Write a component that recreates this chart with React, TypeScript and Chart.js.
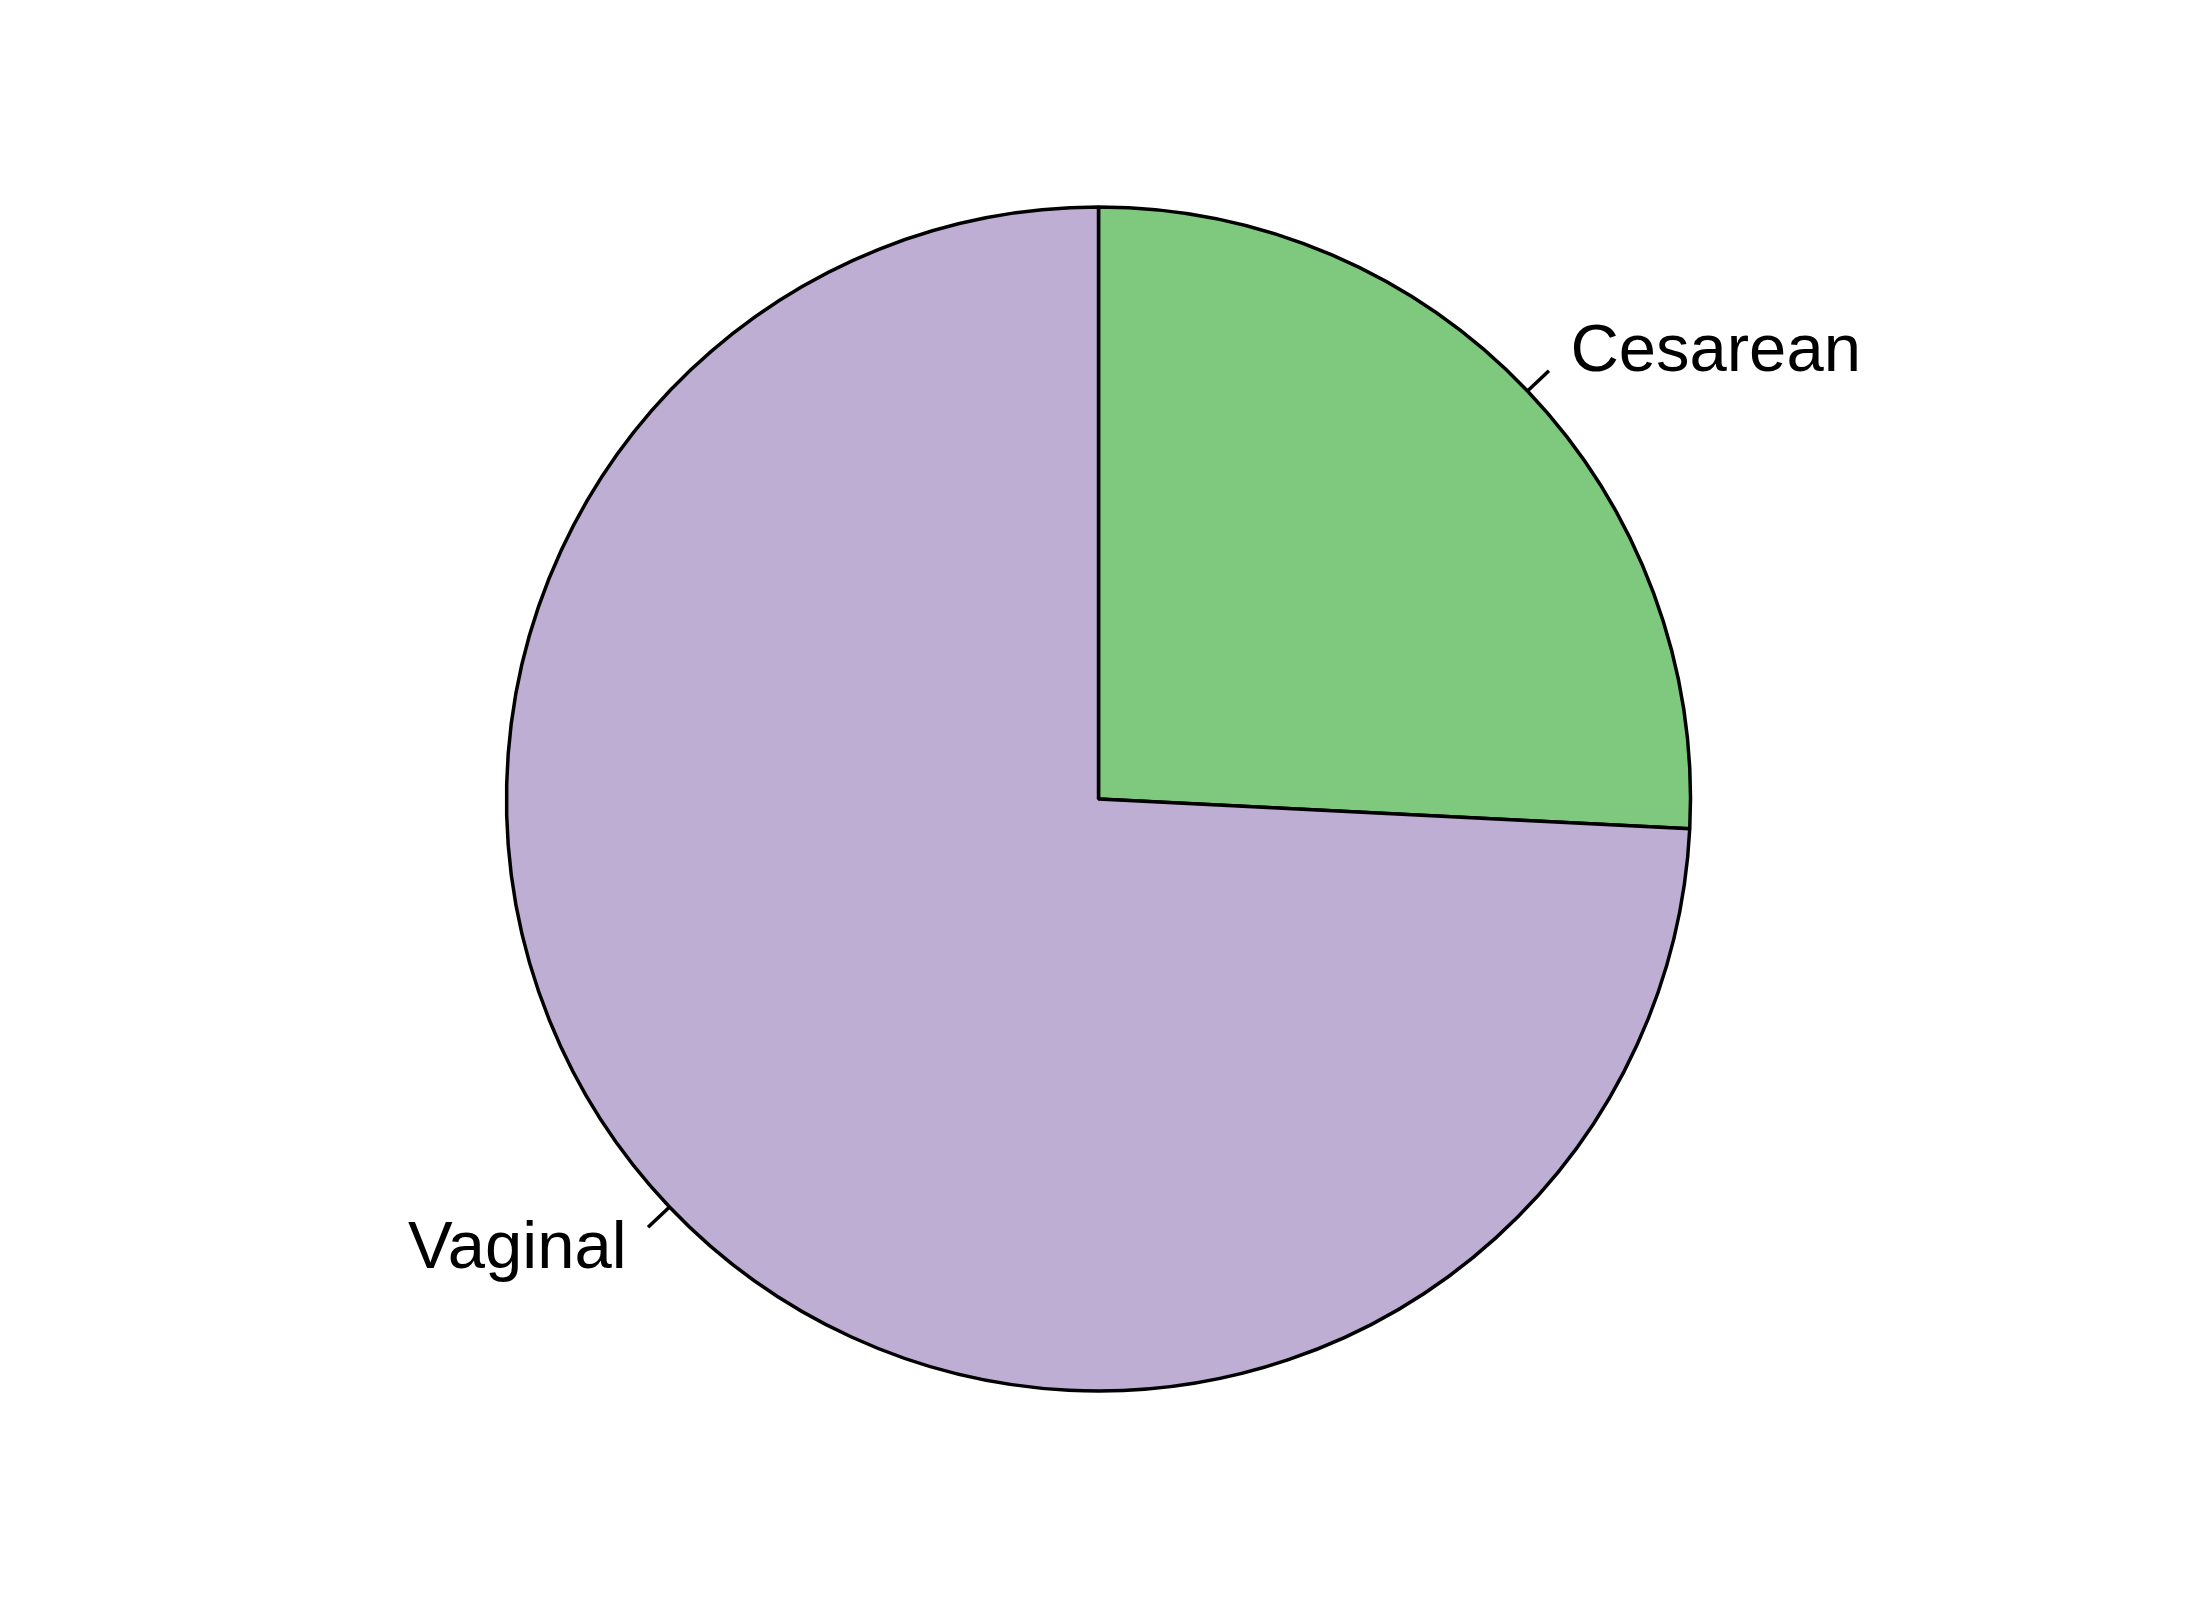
import React, { useEffect, useRef } from "react";
import { Chart, registerables } from "chart.js";

Chart.register(...registerables);

const categories = ["Cesarean", "Vaginal"];
const values = [25.8, 74.2];
const colors = ["#7FC97F", "#BEAED4"];

const labelPlugin = {
  id: "rPieLabels",
  afterDatasetsDraw(chart: any) {
    const ctx = chart.ctx;
    const meta = chart.getDatasetMeta(0);
    ctx.save();
    ctx.strokeStyle = "#000000";
    ctx.lineWidth = 3.5;
    ctx.fillStyle = "#000000";
    ctx.font = "67px 'Liberation Sans', Arial, sans-serif";
    ctx.textBaseline = "middle";
    meta.data.forEach((arc: any, i: number) => {
      const mid = (arc.startAngle + arc.endAngle) / 2;
      const r = arc.outerRadius;
      const c = Math.cos(mid);
      const s = Math.sin(mid);
      ctx.beginPath();
      ctx.moveTo(arc.x + r * c, arc.y + r * s);
      ctx.lineTo(arc.x + 1.05 * r * c, arc.y + 1.05 * r * s);
      ctx.stroke();
      ctx.textAlign = c < 0 ? "right" : "left";
      ctx.fillText(categories[i], arc.x + 1.1 * r * c, arc.y + 1.1 * r * s + 2);
    });
    ctx.restore();
  },
};

export default function App() {
  const ref = useRef<HTMLCanvasElement>(null);
  useEffect(() => {
    document.body.style.margin = "0";
    const chart = new Chart(ref.current as HTMLCanvasElement, {
      type: "pie",
      data: {
        labels: categories,
        datasets: [
          {
            data: values,
            backgroundColor: colors,
            borderColor: "#000000",
            borderWidth: 3.5,
          },
        ],
      },
      options: {
        responsive: false,
        animation: false,
        radius: 592,
        layout: { padding: { right: 3, bottom: 2 } },
        plugins: {
          legend: { display: false },
          tooltip: { enabled: false },
        },
      } as any,
      plugins: [labelPlugin],
    });
    return () => chart.destroy();
  }, []);
  return (
    <div style={{ width: 2200, height: 1600, background: "#ffffff" }}>
      <canvas ref={ref} width={2200} height={1600} style={{ width: 2200, height: 1600 }} />
    </div>
  );
}
